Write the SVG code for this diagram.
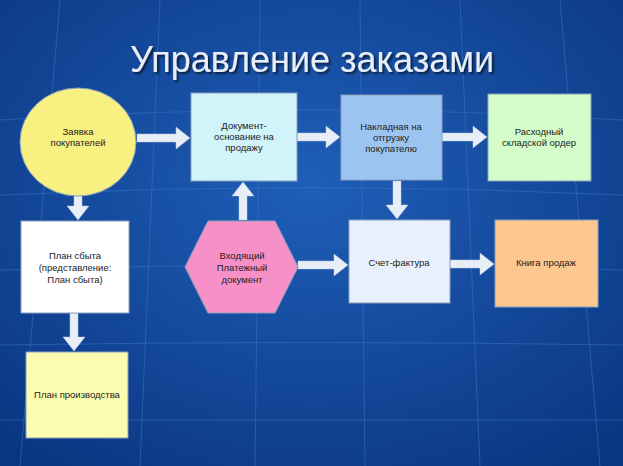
<svg xmlns="http://www.w3.org/2000/svg" width="623" height="466" viewBox="0 0 623 466">
<defs>
<radialGradient id="bg" cx="0.5" cy="0.4" r="0.75">
<stop offset="0" stop-color="#1f5fb8"/><stop offset="1" stop-color="#0a3580"/>
</radialGradient>
<filter id="sh"><feDropShadow dx="2" dy="2" stdDeviation="1" flood-color="#000" flood-opacity="0.6"/></filter>
</defs>
<style>
.t{font-family:"Liberation Sans",Arial,sans-serif;font-size:9.5px;fill:#222;text-anchor:middle}
.n{stroke:#8aa0c0;stroke-width:1}
.a{fill:#e8eef8;stroke:#b8c8e0;stroke-width:0.5}
.g{stroke:#3f78c8;stroke-width:1;fill:none;opacity:0.5}
</style>
<rect width="623" height="466" fill="url(#bg)"/>
<g class="g">
<path d="M0 120 Q311 100 623 120 M0 195 Q311 180 623 195 M0 270 Q311 260 623 270 M0 345 Q311 340 623 345 M0 420 Q311 420 623 420"/>
<path d="M60 0 Q40 233 20 466 M160 0 Q150 233 140 466 M260 0 Q258 233 255 466 M360 0 Q362 233 365 466 M460 0 Q470 233 480 466 M560 0 Q580 233 600 466"/>
</g>
<text x="312" y="72" font-family="Liberation Sans,Arial,sans-serif" font-size="36" fill="#e8eef8" text-anchor="middle" filter="url(#sh)">Управление заказами</text>
<g id="connectors">
<path class="a" d="M137 134 L176 134 L176 127 L190 138 L176 149 L176 142 L137 142 Z"/>
<path class="a" d="M297 133 L326 133 L326 126 L340 137 L326 148 L326 141 L297 141 Z"/>
<path class="a" d="M442 133 L473 133 L473 126 L487 137 L473 148 L473 141 L442 141 Z"/>
<path class="a" d="M298 261 L334 261 L334 254 L348 265 L334 276 L334 269 L298 269 Z"/>
<path class="a" d="M450 260 L480 260 L480 253 L494 264 L480 275 L480 268 L450 268 Z"/>
<path class="a" d="M393 181 L393 205 L386 205 L397 219 L408 205 L401 205 L401 181 Z"/>
<path class="a" d="M74 196 L74 206 L67 206 L78 220 L89 206 L82 206 L82 196 Z"/>
<path class="a" d="M70 313 L70 337 L63 337 L74 351 L85 337 L78 337 L78 313 Z"/>
<path class="a" d="M239 220 L239 196 L232 196 L243 182 L254 196 L247 196 L247 220 Z"/>
</g>
<g id="n1"><ellipse class="n" cx="78" cy="142" rx="58" ry="54" fill="#f8f080"/><text class="t" x="78" y="135">Заявка</text><text class="t" x="78" y="146">покупателей</text></g>
<g id="n2"><rect class="n" x="191" y="93" width="106" height="88" fill="#d0f4fa"/><text class="t" x="244" y="129">Документ-</text><text class="t" x="244" y="140">основание  на</text><text class="t" x="244" y="151">продажу</text></g>
<g id="n3"><rect class="n" x="341" y="95" width="101" height="85" fill="#9cc4f0"/><text class="t" x="391" y="130">Накладная на</text><text class="t" x="391" y="141">отгрузку</text><text class="t" x="391" y="152">покупателю</text></g>
<g id="n4"><rect class="n" x="488" y="94" width="103" height="87" fill="#d4fcc8"/><text class="t" x="539" y="135">Расходный</text><text class="t" x="539" y="146">складской ордер</text></g>
<g id="n5"><rect class="n" x="21" y="221" width="108" height="92" fill="#ffffff"/><text class="t" x="75" y="259">План сбыта</text><text class="t" x="75" y="271">(представление:</text><text class="t" x="75" y="283">План сбыта)</text></g>
<g id="n6"><polygon class="n" points="185,267 208,221 275,221 298,267 275,313 208,313" fill="#f890c8"/><text class="t" x="242" y="259">Входящий</text><text class="t" x="242" y="271">Платежный</text><text class="t" x="242" y="283">документ</text></g>
<g id="n7"><rect class="n" x="349" y="220" width="101" height="83" fill="#e8f0fc"/><text class="t" x="399" y="266">Счет-фактура</text></g>
<g id="n8"><rect class="n" x="495" y="220" width="103" height="87" fill="#fcc890"/><text class="t" x="546" y="266">Книга продаж</text></g>
<g id="n9"><rect class="n" x="26" y="352" width="102" height="86" fill="#fcfcb0"/><text class="t" x="77" y="398">План производства</text></g>
</svg>
